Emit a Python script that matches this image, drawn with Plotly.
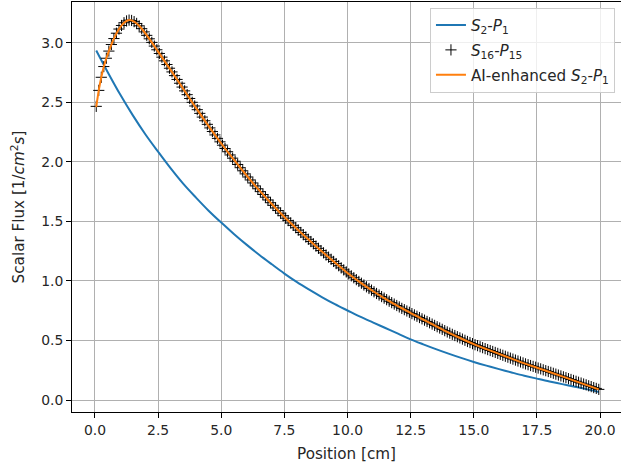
import plotly.graph_objects as go

# ---- data ----
s2p1_x = [0.05, 0.5, 1.0, 1.5, 2.0, 2.5, 3.0, 3.5, 4.0, 4.5, 5.0, 5.5, 6.0, 6.5, 7.0, 7.5,
          8.0, 8.5, 9.0, 9.5, 10.0, 10.5, 11.0, 11.5, 12.0, 12.5, 13.0, 13.5, 14.0, 14.5,
          15.0, 15.5, 16.0, 16.5, 17.0, 17.5, 18.0, 18.5, 19.0, 19.5, 19.95]
s2p1_flux = [2.935, 2.755, 2.565, 2.39, 2.23, 2.085, 1.945, 1.815, 1.70, 1.59, 1.49, 1.395,
             1.305, 1.22, 1.14, 1.062, 0.99, 0.925, 0.863, 0.805, 0.752, 0.70, 0.652, 0.605,
             0.558, 0.51, 0.468, 0.428, 0.39, 0.354, 0.32, 0.289, 0.26, 0.232, 0.205, 0.18,
             0.156, 0.134, 0.112, 0.09, 0.068]

s16_x = [
    0.05, 0.15, 0.25, 0.35, 0.45, 0.55, 0.65, 0.75, 0.85, 0.95,
    1.05, 1.15, 1.25, 1.35, 1.45, 1.55, 1.65, 1.75, 1.85, 1.95,
    2.05, 2.15, 2.25, 2.35, 2.45, 2.55, 2.65, 2.75, 2.85, 2.95,
    3.05, 3.15, 3.25, 3.35, 3.45, 3.55, 3.65, 3.75, 3.85, 3.95,
    4.05, 4.15, 4.25, 4.35, 4.45, 4.55, 4.65, 4.75, 4.85, 4.95,
    5.05, 5.15, 5.25, 5.35, 5.45, 5.55, 5.65, 5.75, 5.85, 5.95,
    6.05, 6.15, 6.25, 6.35, 6.45, 6.55, 6.65, 6.75, 6.85, 6.95,
    7.05, 7.15, 7.25, 7.35, 7.45, 7.55, 7.65, 7.75, 7.85, 7.95,
    8.05, 8.15, 8.25, 8.35, 8.45, 8.55, 8.65, 8.75, 8.85, 8.95,
    9.05, 9.15, 9.25, 9.35, 9.45, 9.55, 9.65, 9.75, 9.85, 9.95,
    10.05, 10.15, 10.25, 10.35, 10.45, 10.55, 10.65, 10.75, 10.85, 10.95,
    11.05, 11.15, 11.25, 11.35, 11.45, 11.55, 11.65, 11.75, 11.85, 11.95,
    12.05, 12.15, 12.25, 12.35, 12.45, 12.55, 12.65, 12.75, 12.85, 12.95,
    13.05, 13.15, 13.25, 13.35, 13.45, 13.55, 13.65, 13.75, 13.85, 13.95,
    14.05, 14.15, 14.25, 14.35, 14.45, 14.55, 14.65, 14.75, 14.85, 14.95,
    15.05, 15.15, 15.25, 15.35, 15.45, 15.55, 15.65, 15.75, 15.85, 15.95,
    16.05, 16.15, 16.25, 16.35, 16.45, 16.55, 16.65, 16.75, 16.85, 16.95,
    17.05, 17.15, 17.25, 17.35, 17.45, 17.55, 17.65, 17.75, 17.85, 17.95,
    18.05, 18.15, 18.25, 18.35, 18.45, 18.55, 18.65, 18.75, 18.85, 18.95,
    19.05, 19.15, 19.25, 19.35, 19.45, 19.55, 19.65, 19.75, 19.85, 19.95,
]
s16_flux = [
    2.466, 2.600, 2.710, 2.800, 2.870, 2.930, 2.985, 3.035, 3.080, 3.115,
    3.145, 3.168, 3.183, 3.190, 3.187, 3.177, 3.162, 3.142, 3.118, 3.091,
    3.062, 3.033, 3.003, 2.972, 2.941, 2.910, 2.879, 2.848, 2.817, 2.786,
    2.755, 2.724, 2.692, 2.660, 2.628, 2.596, 2.564, 2.532, 2.500, 2.469,
    2.438, 2.407, 2.376, 2.345, 2.315, 2.285, 2.255, 2.226, 2.197, 2.168,
    2.140, 2.112, 2.085, 2.058, 2.031, 2.005, 1.978, 1.951, 1.925, 1.899,
    1.873, 1.848, 1.823, 1.798, 1.774, 1.750, 1.726, 1.703, 1.680, 1.657,
    1.635, 1.613, 1.591, 1.569, 1.548, 1.527, 1.507, 1.487, 1.467, 1.447,
    1.427, 1.407, 1.388, 1.369, 1.350, 1.331, 1.312, 1.293, 1.274, 1.255,
    1.236, 1.218, 1.200, 1.182, 1.164, 1.146, 1.128, 1.110, 1.093, 1.076,
    1.059, 1.043, 1.027, 1.011, 0.996, 0.981, 0.966, 0.951, 0.937, 0.923,
    0.909, 0.895, 0.882, 0.869, 0.856, 0.843, 0.830, 0.818, 0.806, 0.794,
    0.782, 0.770, 0.759, 0.748, 0.737, 0.726, 0.715, 0.704, 0.693, 0.682,
    0.671, 0.660, 0.649, 0.638, 0.627, 0.616, 0.605, 0.594, 0.583, 0.572,
    0.562, 0.552, 0.542, 0.532, 0.522, 0.512, 0.502, 0.492, 0.483, 0.474,
    0.465, 0.457, 0.448, 0.440, 0.432, 0.424, 0.416, 0.408, 0.400, 0.392,
    0.384, 0.376, 0.368, 0.360, 0.352, 0.344, 0.336, 0.328, 0.320, 0.312,
    0.304, 0.297, 0.290, 0.283, 0.276, 0.269, 0.262, 0.254, 0.247, 0.240,
    0.233, 0.225, 0.218, 0.210, 0.203, 0.195, 0.188, 0.180, 0.173, 0.165,
    0.158, 0.150, 0.143, 0.135, 0.128, 0.120, 0.113, 0.105, 0.098, 0.090,
]

ai_x = [0.05, 0.15, 0.25, 0.35, 0.45, 0.55, 0.75, 0.95, 1.15, 1.35, 1.55, 1.75, 1.95, 2.25,
        2.5, 3.0, 3.5, 4.0, 4.5, 5.0, 5.5, 6.0, 6.5, 7.0, 7.5, 8.0, 8.5, 9.0, 9.5, 10.0,
        10.5, 11.0, 11.5, 12.0, 12.5, 13.0, 13.5, 14.0, 14.5, 15.0, 15.5, 16.0, 16.5, 17.0,
        17.5, 18.0, 18.5, 19.0, 19.5, 19.95]
ai_flux = [2.46, 2.60, 2.71, 2.80, 2.87, 2.93, 3.035, 3.115, 3.168, 3.19, 3.177, 3.142, 3.091,
           3.003, 2.925, 2.77, 2.612, 2.453, 2.30, 2.154, 2.018, 1.886, 1.762, 1.646, 1.537,
           1.437, 1.34, 1.245, 1.155, 1.067, 0.988, 0.916, 0.85, 0.788, 0.731, 0.676, 0.621,
           0.567, 0.517, 0.47, 0.428, 0.388, 0.348, 0.308, 0.272, 0.236, 0.199, 0.161, 0.124,
           0.09]

x_ticks = [0.0, 2.5, 5.0, 7.5, 10.0, 12.5, 15.0, 17.5, 20.0]
y_ticks = [0.0, 0.5, 1.0, 1.5, 2.0, 2.5, 3.0]

FONT = "DejaVu Sans"
TXT = "#262626"
TICK_SIZE = 13.9
LABEL_SIZE = 15.2

fig = go.Figure()
fig.add_trace(go.Scatter(
    x=s2p1_x, y=s2p1_flux, mode="lines", line=dict(color="#1f77b4", width=2, shape="spline"),
    name="<i>S</i><sub>2</sub>-<i>P</i><sub>1</sub>", legendgroup="a"))
fig.add_trace(go.Scatter(
    x=s16_x, y=s16_flux, mode="markers",
    marker=dict(symbol="cross-thin", size=8, color="black", line=dict(color="black", width=1)),
    name="<i>S</i><sub>16</sub>-<i>P</i><sub>15</sub>", legendgroup="b"))
fig.add_trace(go.Scatter(
    x=ai_x, y=ai_flux, mode="lines", line=dict(color="#ff7f0e", width=2, shape="spline"),
    name="AI-enhanced <i>S</i><sub>2</sub>-<i>P</i><sub>1</sub>", legendgroup="c"))

axis_common = dict(
    showgrid=True, gridcolor="#b0b0b0", gridwidth=1,
    ticks="outside", ticklen=5, tickwidth=1, tickcolor="black",
    showline=True, linecolor="black", linewidth=1,
    zeroline=False, automargin=False,
    tickfont=dict(family=FONT, size=TICK_SIZE, color=TXT),
)

fig.update_layout(
    width=621, height=467,
    margin=dict(l=72, r=0, t=2, b=55, autoexpand=False),
    paper_bgcolor="white", plot_bgcolor="white",
    font=dict(family=FONT, size=TICK_SIZE, color=TXT),
    showlegend=True,
    legend=dict(
        x=0.989, y=0.986, xanchor="right", yanchor="top",
        bgcolor="rgba(255,255,255,0.8)", bordercolor="#cccccc", borderwidth=1,
        font=dict(family=FONT, size=LABEL_SIZE, color=TXT),
        tracegroupgap=2, itemwidth=30,
    ),
    xaxis=dict(
        range=[-0.91, 20.83], tickvals=x_ticks, ticktext=[f"{v:.1f}" for v in x_ticks],
        mirror=True,
        title=dict(text="Position [cm]", font=dict(family=FONT, size=LABEL_SIZE, color=TXT), standoff=11),
        **axis_common,
    ),
    yaxis=dict(
        range=[-0.1, 3.342], tickvals=y_ticks, ticktext=[f"{v:.1f}" for v in y_ticks],
        mirror=False,
        title=dict(text="Scalar Flux [1/<i>cm</i><sup>2</sup><i>s</i>]",
                   font=dict(family=FONT, size=LABEL_SIZE, color=TXT), standoff=12),
        **axis_common,
    ),
)

fig.write_html(
    "out.html",
    config={"displayModeBar": False},
    post_script="document.body.style.margin='0px';document.body.style.overflow='hidden';",
)
